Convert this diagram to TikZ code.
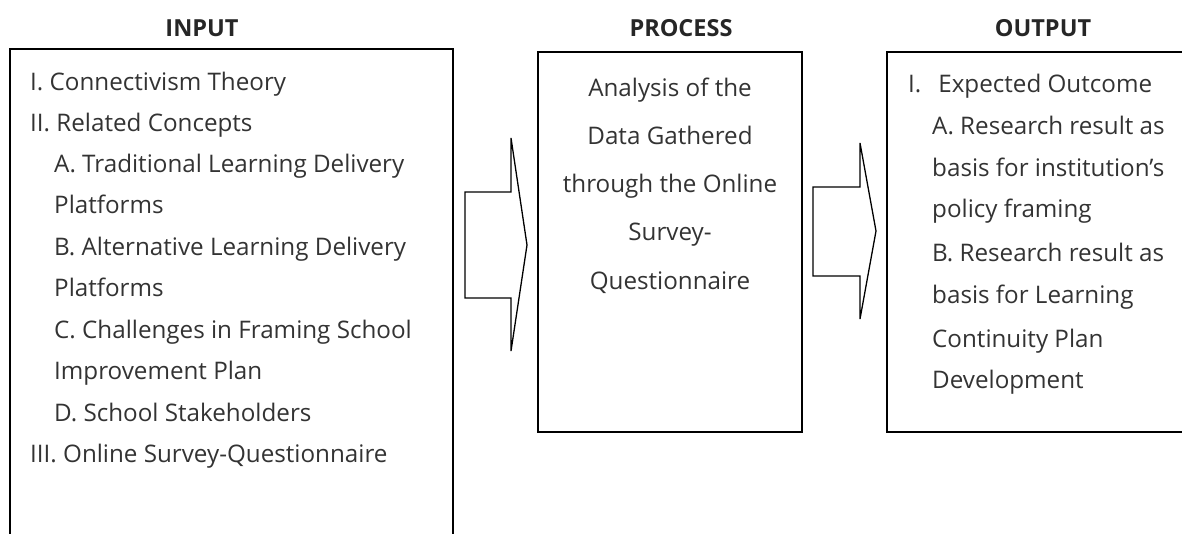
\documentclass[tikz,border=0pt]{standalone}
\usepackage{fontspec}
\setmainfont{Open Sans}
\begin{document}
\begin{tikzpicture}[x=1pt,y=-1pt,
  box/.style={draw=black,line width=1.6pt},
  arr/.style={draw=black,line width=1.3pt,line join=miter},
  ttl/.style={font=\fontsize{23.5}{26}\selectfont\bfseries,anchor=base,inner sep=0pt,text=black!85},
  txt/.style={font=\fontsize{24.2}{28}\selectfont,anchor=base west,inner sep=0pt,text=black!80},
  ctxt/.style={font=\fontsize{24.2}{28}\selectfont,anchor=base,inner sep=0pt,text=black!80}]
\useasboundingbox (0,0) rectangle (1182,534);
\clip (0,0) rectangle (1182,534);
% titles
\node[ttl] (tin) at (202,37) {INPUT};
\node[ttl] (tpr) at (681,37) {PROCESS};
\node[ttl] (tout) at (1043,37) {OUTPUT};
% boxes
\draw[box] (10,49) rectangle (453,560);
\draw[box] (538,52) rectangle (802,432);
\draw[box] (887,52) rectangle (1200,432);
% arrows
\draw[arr] (465,192) -- (511,192) -- (511,138) -- (527,245) -- (511,351) -- (511,298) -- (465,298) -- cycle;
\draw[arr] (813,187) -- (860,187) -- (860,143) -- (876,231) -- (860,319) -- (860,276) -- (813,276) -- cycle;
% input text
\node[txt] (i1) at (30,91) {I. Connectivism Theory};
\node[txt] (i2) at (30,132) {II. Related Concepts};
\node[txt] (i3) at (54,173) {A. Traditional Learning Delivery};
\node[txt] (i4) at (54,214) {Platforms};
\node[txt] (i5) at (54,256) {B. Alternative Learning Delivery};
\node[txt] (i6) at (54,297) {Platforms};
\node[txt] (i7) at (54,338) {C. Challenges in Framing School};
\node[txt] (i8) at (54,379) {Improvement Plan};
\node[txt] (i9) at (54,421) {D. School Stakeholders};
\node[txt] (i10) at (30,462) {III. Online Survey-Questionnaire};
% process text
\node[ctxt] (p1) at (670,97) {Analysis of the};
\node[ctxt] (p2) at (670,145) {Data Gathered};
\node[ctxt] (p3) at (670,193) {through the Online};
\node[ctxt] (p4) at (670,241) {Survey-};
\node[ctxt] (p5) at (670,290) {Questionnaire};
% output text
\node[txt] (o1) at (908,93) {I.\hspace{0.7em}Expected Outcome};
\node[txt] (o2) at (932,135) {A. Research result as};
\node[txt] (o3) at (932,177) {basis for institution’s};
\node[txt] (o4) at (932,218) {policy framing};
\node[txt] (o5) at (932,262) {B. Research result as};
\node[txt] (o6) at (932,304) {basis for Learning};
\node[txt] (o7) at (932,347) {Continuity Plan};
\node[txt] (o8) at (932,388) {Development};
\end{tikzpicture}
\end{document}
